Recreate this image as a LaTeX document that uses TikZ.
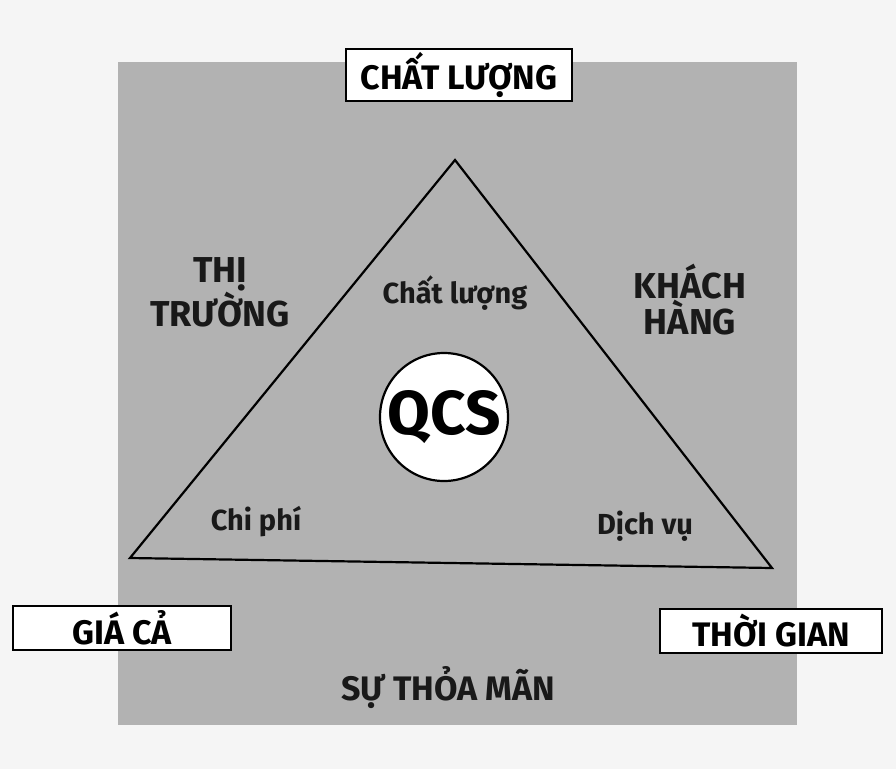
\documentclass[tikz,border=0pt]{standalone}
\usepackage{fontspec}
\setmainfont{Fira Sans}
\begin{document}
\begin{tikzpicture}[x=1pt,y=-1pt,
  lbl/.style={font=\fontsize{36}{36}\selectfont\bfseries, align=center, text=black!90},
  small/.style={font=\fontsize{29}{32}\selectfont\bfseries, text=black!90},
  boxed/.style={draw=black, line width=2.5pt, fill=white, minimum height=44pt, inner xsep=6pt, font=\fontsize{34}{36}\selectfont\bfseries}]
\useasboundingbox (0,0) rectangle (896,769);
\fill[black!4] (0,0) rectangle (896,769);
\fill[black!30] (118,62) rectangle (797,725);
\coordinate (A) at (455,160);
\coordinate (B) at (130,558);
\coordinate (C) at (772,568);
\draw[line width=2.2pt, line join=miter] (A) -- (B) -- (C) -- cycle;
\node[circle, draw, line width=2.2pt, fill=white, minimum size=128pt, inner sep=0pt, font=\fontsize{62}{64}\selectfont\bfseries] (qcs) at (444,417) {QCS};
\node[boxed, minimum width=226pt] (cl) at (459,75) {CHẤT LƯỢNG};
\node[boxed, minimum width=218pt] (gc) at (122,628) {GIÁ CẢ};
\node[boxed, minimum width=222pt] (tg) at (771,631) {THỜI GIAN};
\node[lbl] (tt) at (220,292) {THỊ\\TRƯỜNG};
\node[lbl] (kh) at (690,300) {KHÁCH\\HÀNG};
\node[small] (cl2) at (455,293) {Chất lượng};
\node[small] (cp) at (256,522) {Chi phí};
\node[small] (dv) at (645,526) {Dịch vụ};
\node[lbl, font=\fontsize{34}{36}\selectfont\bfseries] (tm) at (448,688) {SỰ THỎA MÃN};
\end{tikzpicture}
\end{document}
